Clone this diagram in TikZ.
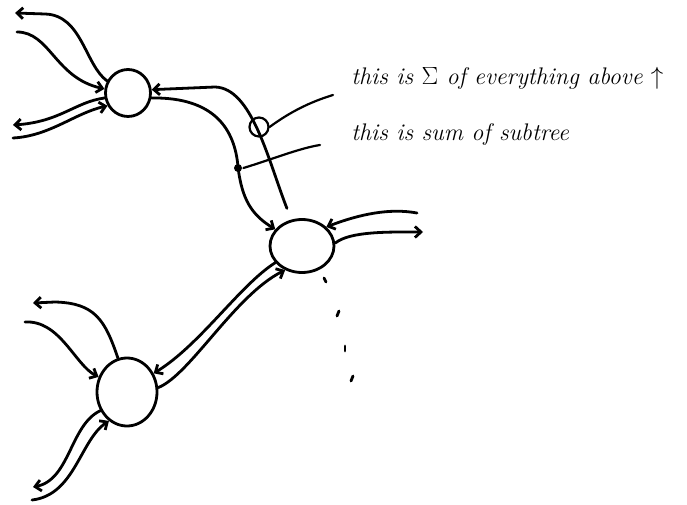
\documentclass[tikz,border=0pt]{standalone}
\usetikzlibrary{arrows.meta,shapes.geometric}
\begin{document}
\begin{tikzpicture}[x=1pt,y=-1pt, line width=2.8pt, line cap=round, line join=round,
  hub/.style={draw, ellipse, inner sep=0pt},
  arr/.style={-{Straight Barb[length=6pt,width=11pt]}},
  note/.style={font=\fontsize{24}{28}\selectfont\itshape, anchor=west, inner sep=0pt},
  loopmark/.style={draw, circle, minimum size=19pt, inner sep=0pt, line width=2.2pt},
  dotmark/.style={fill, circle, minimum size=8pt, inner sep=0pt}]
\useasboundingbox (0,0) rectangle (687,505);

% hubs
\node[hub, minimum width=45pt, minimum height=47pt] (A) at (128,93) {};
\node[hub, minimum width=64pt, minimum height=53pt] (B) at (302,246) {};
\node[hub, minimum width=60pt, minimum height=68pt] (C) at (127,392) {};

% free ends
\coordinate (a1) at (15,13);
\coordinate (a2) at (17,32);
\coordinate (a3) at (13,125);
\coordinate (a4) at (13,138);
\coordinate (b1) at (417,213);
\coordinate (b2) at (423,232);
\coordinate (c1) at (33,303);
\coordinate (c2) at (25,322);
\coordinate (c3) at (33,487);
\coordinate (c4) at (32,500);
\coordinate (t1) at (333,95);
\coordinate (t2) at (320,145);

% A connectors
\draw[arr] (A.150) .. controls (85,65) and (82,15) .. (45,14) -- (a1);
\draw[arr] (a2) .. controls (50,32) and (55,78) .. (A.170);
\draw[arr] (A.192) .. controls (75,102) and (60,122) .. (a3);
\draw[arr] (a4) .. controls (50,136) and (75,113) .. (A.212);

% A <-> B
\draw[arr, shorten <=12pt] (B.112) .. controls (268,160) and (252,88) .. (215,87) -- (A.8);
\draw[arr] (A.-12) .. controls (215,97) and (235,130) .. (238,167) .. controls (242,200) and (252,215) .. (B.148);

% annotations
\node[loopmark] (L1) at (259,127) {};
\node[dotmark] (D1) at (238,168) {};
\draw[line width=2.2pt] (L1.east) .. controls (290,112) and (310,102) .. (t1);
\draw[line width=2.2pt] (D1.east) .. controls (270,160) and (300,148) .. (t2);
\node[note] (T1) at (350,78) {this is $\Sigma$ of everything above $\uparrow$};
\node[note] (T2) at (350,135) {this is sum of subtree};

% B right
\draw[arr] (b1) .. controls (390,208) and (360,214) .. (B.38);
\draw[arr] (B.5) .. controls (350,231) and (390,232) .. (b2);

% B <-> C
\draw[arr] (B.212) .. controls (240,285) and (200,345) .. (C.35);
\draw[arr] (C.8) .. controls (190,375) and (235,295) .. (B.235);

% C connectors
\draw[arr] (C.105) .. controls (105,320) and (95,303) .. (55,302) -- (c1);
\draw[arr] (c2) .. controls (60,320) and (75,365) .. (C.152);
\draw[arr] (C.215) .. controls (70,425) and (70,480) .. (c3);
\draw[arr] (c4) .. controls (75,495) and (80,440) .. (C.238);

% trailing dots
\draw (324,278) -- (326,282);
\draw (339,311) -- (337,316);
\draw (345,346) -- (345,351);
\draw (353,376) -- (351,381);
\end{tikzpicture}
\end{document}
